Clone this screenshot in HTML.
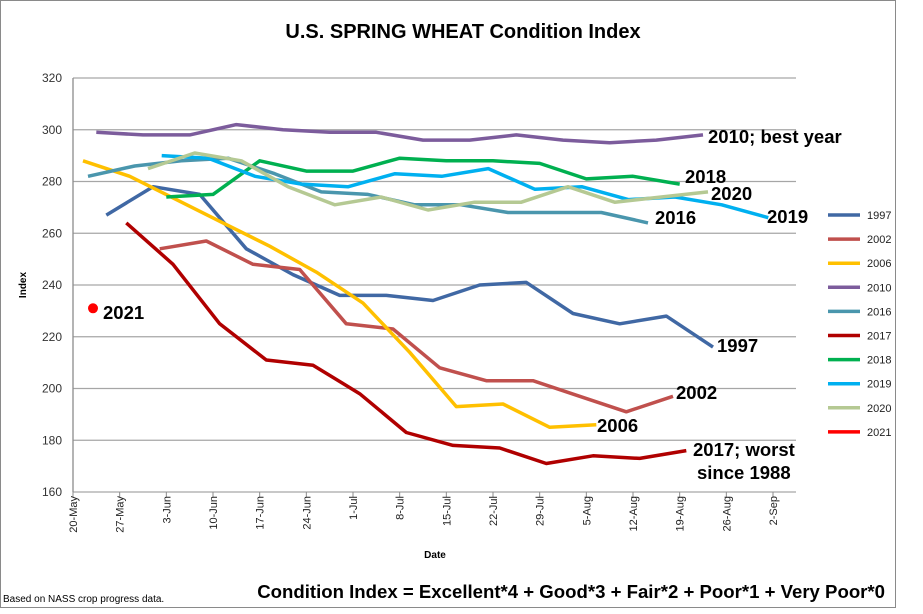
<!DOCTYPE html>
<html><head><meta charset="utf-8"><style>
body{margin:0;background:#fff;}
svg{display:block;font-family:"Liberation Sans",Arial,sans-serif;}
</style></head><body>
<svg id="chart" width="923" height="614">
<rect x="0.5" y="0.5" width="895" height="607" fill="#fff" stroke="#8a8a8a"/>
<text x="463" y="38" text-anchor="middle" font-size="20" font-weight="bold">U.S. SPRING WHEAT Condition Index</text>
<g id="grid"></g><g id="axes"></g><g id="series"></g><g id="labels"></g><g id="legend"></g>
<text x="435" y="558" text-anchor="middle" font-size="10" font-weight="bold">Date</text>
<text transform="translate(26,285) rotate(-90)" text-anchor="middle" font-size="10" font-weight="bold">Index</text>
<text x="3" y="602" font-size="10">Based on NASS crop progress data.</text>
<text x="885" y="598" text-anchor="end" font-size="18.6" font-weight="bold">Condition Index = Excellent*4 + Good*3 + Fair*2 + Poor*1 + Very Poor*0</text>
</svg>
<script>
const yTicks=[160,180,200,220,240,260,280,300,320];
const xTickLabels=["20-May","27-May","3-Jun","10-Jun","17-Jun","24-Jun","1-Jul","8-Jul","15-Jul","22-Jul","29-Jul","5-Aug","12-Aug","19-Aug","26-Aug","2-Sep"];
const years=["1997","2002","2006","2010","2016","2017","2018","2019","2020","2021"];
const startDays=[5,13,1.5,3.5,2.25,8,14,13.3,11.25,3];
const v1997=[267,278,275,254,244,236,236,234,240,241,229,225,228,216];
const v2002=[254,257,248,246,225,223,208,203,203,197,191,197];
const v2006=[288,282,273,264,255,245,233,214,193,194,185,186];
const v2010=[299,298,298,302,300,299,299,296,296,298,296,295,296,298];
const v2016=[282,286,288,289,283,276,275,271,271,268,268,268,264];
const v2017=[264,248,225,211,209,198,183,178,177,171,174,173,176];
const v2018=[274,275,288,284,284,289,288,288,287,281,282,279];
const v2019=[290,289,282,279,278,283,282,285,277,278,273,274,271,266];
const v2020=[285,291,288,278,271,274,269,272,272,278,272,274,276];
const v2021=[231];
const seriesValues=[v1997,v2002,v2006,v2010,v2016,v2017,v2018,v2019,v2020,v2021];
const colors=["#4068a4","#c0504d","#ffc000","#7c5c9c","#4a96ad","#b00000","#00b050","#00b0f0","#b5c993","#ff0000"];
const endLabels=[["1997",717,352],["2002",676,399],["2006",597,432],["2010; best year",708,143],["2016",655,224],["2017; worst",693,456],["2018",685,183],["2019",767,223],["2020",711,200],["2021",103,319]];
const NS="http://www.w3.org/2000/svg";
const X0=73,X1=796,PXDAY=700/105,Y0=492,Y1=78;
function xs(d){return X0+d*PXDAY;}
function ys(v){return Y0-(v-160)/160*(Y0-Y1);}
function mk(t,a,p){const e=document.createElementNS(NS,t);for(const k in a)e.setAttribute(k,a[k]);p.appendChild(e);return e;}
const grid=document.getElementById('grid'),axes=document.getElementById('axes');
yTicks.forEach(v=>{
  const l=mk('line',{x1:X0,x2:X1,y1:ys(v),y2:ys(v),stroke:'#a6a6a6','stroke-width':1.3},grid);
  
  
  const t=mk('text',{x:62,y:ys(v)+4,'text-anchor':'end','font-size':12,fill:'#333'},axes);
  t.textContent=v;
  
  
});
const ax=mk('line',{x1:X0,x2:X0,y1:Y1,y2:Y0,stroke:'#8c8c8c','stroke-width':1.3},axes);


xTickLabels.forEach((s,i)=>{
  const x=xs(i*7);
  const tk=mk('line',{x1:x,x2:x,y1:Y0,y2:Y0+5,stroke:'#8c8c8c'},axes);
  
  
  const t=mk('text',{transform:`translate(${x+4},${Y0+4}) rotate(-90)`,'text-anchor':'end','font-size':11,fill:'#222'},axes);
  t.textContent=s;
  
  
});
const sg=document.getElementById('series');
seriesValues.forEach((vals,i)=>{
  if(vals.length===1){
    const c=mk('circle',{cx:xs(startDays[i]),cy:ys(vals[0]),r:5,fill:colors[i]},sg);
    
    
    return;
  }
  const pts=vals.map((v,j)=>xs(startDays[i]+j*7).toFixed(1)+','+ys(v).toFixed(1)).join(' ');
  const p=mk('polyline',{points:pts,fill:'none',stroke:colors[i],'stroke-width':3.5,'stroke-linejoin':'round'},sg);
  
  
});
const lg=document.getElementById('labels');
endLabels.forEach(([s,x,y])=>{
  const t=mk('text',{x:x,y:y,'font-size':18.5,'font-weight':'bold'},lg);
  t.textContent=s;
  
  
});
const sl=mk('text',{x:697,y:479,'font-size':18.5,'font-weight':'bold'},lg);
sl.textContent='since 1988';


const leg=document.getElementById('legend');
years.forEach((y,i)=>{
  const yy=215+i*24.1;
  const l=mk('line',{x1:828,x2:860,y1:yy,y2:yy,stroke:colors[i],'stroke-width':3.5},leg);
  
  
  const t=mk('text',{x:867,y:yy+4,'font-size':11,fill:'#222'},leg);
  t.textContent=y;
  
  
});
</script>
</body></html>
